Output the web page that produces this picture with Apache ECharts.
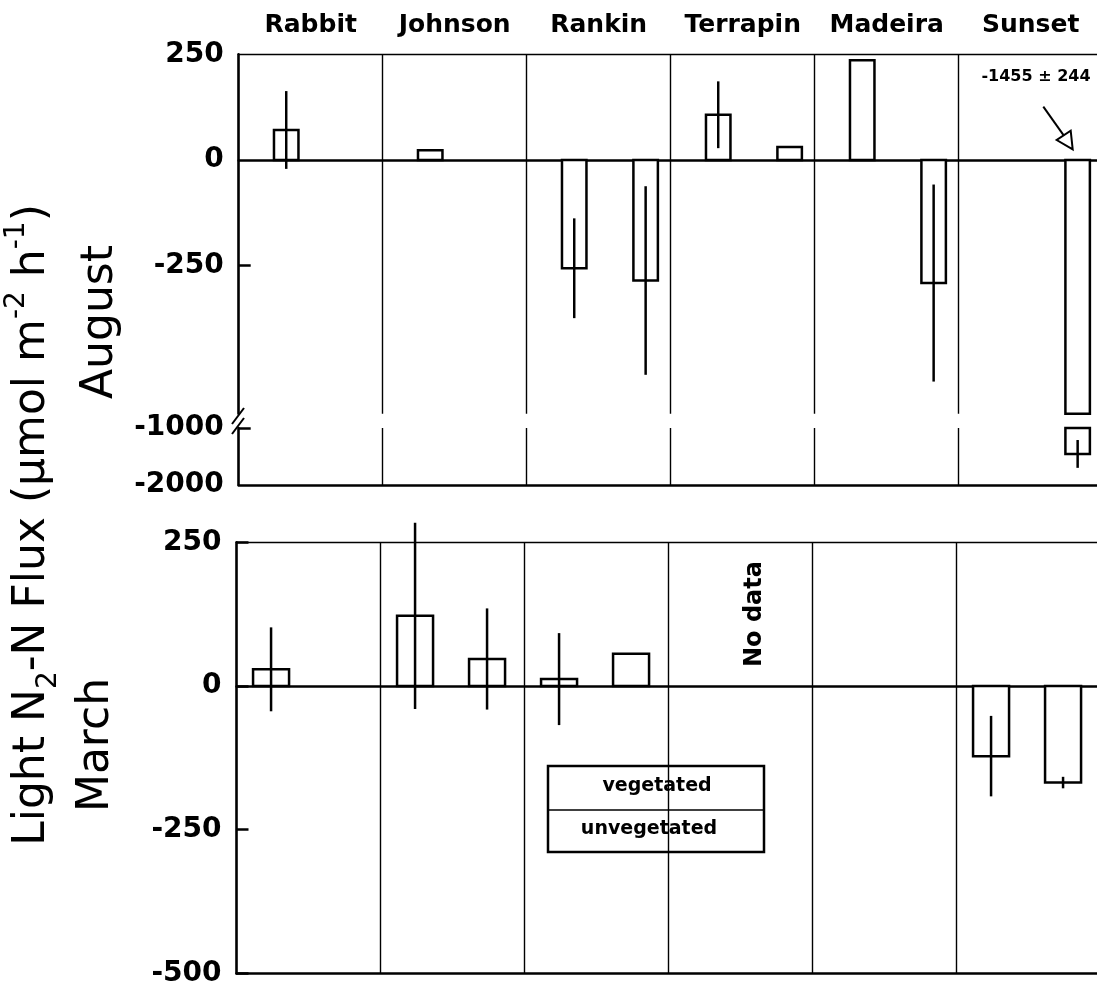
<!DOCTYPE html>
<html>
<head>
<meta charset="utf-8">
<title>Light N2-N flux</title>
<script src="https://cdn.jsdelivr.net/npm/echarts@6.0.0/dist/echarts.min.js"></script>
<style>
  html, body { margin: 0; padding: 0; background: #fff; }
  #chart { width: 1097px; height: 995px; }
</style>
</head>
<body>
<div id="chart"></div>
<script>
// sites along the x axis
const sites = ['Rabbit', 'Johnson', 'Rankin', 'Terrapin', 'Madeira', 'Sunset'];

// August, mean and +/- error (null = no bar / no error bar)
const augVeg = [71, 23, -256, 107, 236, null];
const augVegErr = [92, null, 118, 79, null, null];
const augUnveg = [null, null, -285, 31, -291, -1455];
const augUnvegErr = [null, null, 223, null, 233, 244];

// March
const marVeg = [29, 122, 12, null, null, -122];
const marVegErr = [73, 162, 80, null, null, 70];
const marUnveg = [null, 47, 56, null, null, -168];
const marUnvegErr = [null, 88, null, null, null, 10];

// tick labels
const augUpperLabels = [250, 0, -250];
const augLowerLabels = [-1000, -2000];

const FONT = 'DejaVu Sans';

function toData(vals, errs) {
  return vals
    .map((v, i) => [i, v, errs[i] == null ? 0 : errs[i]])
    .filter(d => d[1] != null);
}

// open bar + error line, clipped to its grid
function barRenderer(shift, widthFrac, clipErr) {
  return function (params, api) {
    const i = api.value(0);
    const v = api.value(1);
    const e = api.value(2);
    const band = api.size([1, 0])[0];
    const p0 = api.coord([i, 0]);
    const p1 = api.coord([i, v]);
    const w = band * widthFrac;
    const cx = p0[0] + band * shift;
    const cs = params.coordSys;
    const children = [];
    const rect = echarts.graphic.clipRectByRect(
      { x: cx - w / 2, y: Math.min(p0[1], p1[1]), width: w, height: Math.abs(p1[1] - p0[1]) },
      { x: cs.x, y: cs.y, width: cs.width, height: cs.height }
    );
    if (rect && rect.height > 0.5) {
      children.push({ type: 'rect', shape: rect, style: { fill: '#fff', stroke: '#000', lineWidth: 2.5 } });
    }
    if (e > 0) {
      let ya = api.coord([i, v + e])[1];
      let yb = api.coord([i, v - e])[1];
      if (clipErr) {
        ya = Math.max(ya, cs.y);
        yb = Math.min(yb, cs.y + cs.height);
      }
      if (yb > ya) {
        children.push({ type: 'line', shape: { x1: cx, y1: ya, x2: cx, y2: yb }, style: { stroke: '#000', lineWidth: 2.5 } });
      }
    }
    return { type: 'group', children: children };
  };
}

const tickLabel = {
  fontFamily: FONT, fontWeight: 'bold', fontSize: 28, color: '#000', margin: 15,
  formatter: v => String(v)
};
const sep = { show: true, interval: 0, lineStyle: { color: '#000', width: 1.4 } };
const thick = { color: '#000', width: 2.5 };
const thin = { color: '#000', width: 1.3 };

const chart = echarts.init(document.getElementById('chart'));

chart.setOption({
  animation: false,
  backgroundColor: '#fff',
  grid: [
    { left: 238.7, top: 54.3, width: 864, height: 359.4, outerBoundsMode: 'none' },
    { left: 238.7, top: 428, width: 864, height: 57, outerBoundsMode: 'none' },
    { left: 236.5, top: 542.3, width: 864, height: 431.1, outerBoundsMode: 'none' }
  ],
  xAxis: [
    // August upper: zero line + separators
    { gridIndex: 0, type: 'category', data: sites, position: 'bottom',
      axisLine: { onZero: true, lineStyle: thick }, axisTick: { show: false }, axisLabel: { show: false }, splitLine: sep },
    // August top border + site names
    { gridIndex: 0, type: 'category', data: sites, position: 'top',
      axisLine: { lineStyle: thin }, axisTick: { show: false }, splitLine: { show: false },
      axisLabel: { interval: 0, fontFamily: FONT, fontWeight: 'bold', fontSize: 25, color: '#000', margin: 29, verticalAlign: 'middle' } },
    // August lower segment
    { gridIndex: 1, type: 'category', data: sites, position: 'bottom',
      axisLine: { onZero: false, lineStyle: thick }, axisTick: { show: false }, axisLabel: { show: false }, splitLine: sep },
    // March zero line + separators
    { gridIndex: 2, type: 'category', data: sites, position: 'bottom',
      axisLine: { onZero: true, lineStyle: thick }, axisTick: { show: false }, axisLabel: { show: false }, splitLine: sep },
    // March top border
    { gridIndex: 2, type: 'category', data: sites, position: 'top',
      axisLine: { lineStyle: thin }, axisTick: { show: false }, axisLabel: { show: false }, splitLine: { show: false } },
    // March bottom border
    { gridIndex: 2, type: 'category', data: sites, position: 'bottom',
      axisLine: { onZero: false, lineStyle: thick }, axisTick: { show: false }, axisLabel: { show: false }, splitLine: { show: false } }
  ],
  yAxis: [
    { gridIndex: 0, type: 'value', min: -600, max: 250,
      axisLine: { show: true, lineStyle: thick },
      axisTick: { show: true, inside: true, length: 12, customValues: [-250], lineStyle: thick },
      axisLabel: Object.assign({ customValues: augUpperLabels }, tickLabel),
      splitLine: { show: false } },
    { gridIndex: 1, type: 'value', min: -2000, max: -1000,
      axisLine: { show: true, lineStyle: thick },
      axisTick: { show: true, inside: true, length: 12, customValues: [-1000], lineStyle: thick },
      axisLabel: Object.assign({ customValues: augLowerLabels }, tickLabel),
      splitLine: { show: false } },
    { gridIndex: 2, type: 'value', min: -500, max: 250, interval: 250,
      axisLine: { show: true, lineStyle: thick },
      axisTick: { show: true, inside: true, length: 12, lineStyle: thick },
      axisLabel: tickLabel,
      splitLine: { show: false } }
  ],
  series: [
    { name: 'Aug vegetated', type: 'custom', xAxisIndex: 0, yAxisIndex: 0,
      renderItem: barRenderer(-0.17, 0.17, true), data: toData(augVeg, augVegErr) },
    { name: 'Aug unvegetated', type: 'custom', xAxisIndex: 0, yAxisIndex: 0,
      renderItem: barRenderer(0.326, 0.17, true), data: toData(augUnveg, augUnvegErr) },
    { name: 'Aug vegetated (break)', type: 'custom', xAxisIndex: 2, yAxisIndex: 1,
      renderItem: barRenderer(-0.17, 0.17, true), data: toData(augVeg, augVegErr) },
    { name: 'Aug unvegetated (break)', type: 'custom', xAxisIndex: 2, yAxisIndex: 1,
      renderItem: barRenderer(0.326, 0.17, true), data: toData(augUnveg, augUnvegErr) },
    { name: 'Mar vegetated', type: 'custom', xAxisIndex: 3, yAxisIndex: 2,
      renderItem: barRenderer(-0.26, 0.25, false), data: toData(marVeg, marVegErr) },
    { name: 'Mar unvegetated', type: 'custom', xAxisIndex: 3, yAxisIndex: 2,
      renderItem: barRenderer(0.24, 0.25, false), data: toData(marUnveg, marUnvegErr) }
  ],
  graphic: [
    // y axis title
    { type: 'text', x: 33, y: 525, rotation: Math.PI / 2,
      style: {
        text: 'Light N{sub|2}-N Flux (µmol m{sup|-2} h{sup|-1})',
        font: '44px "DejaVu Sans"', fill: '#000', align: 'center', verticalAlign: 'middle', lineHeight: 60,
        rich: {
          sub: { fontFamily: FONT, fontSize: 28, lineHeight: 36, verticalAlign: 'bottom', fill: '#000' },
          sup: { fontFamily: FONT, fontSize: 28, lineHeight: 42, verticalAlign: 'top', fill: '#000' }
        }
      } },
    { type: 'text', x: 101, y: 322, rotation: Math.PI / 2,
      style: { text: 'August', font: '44px "DejaVu Sans"', fill: '#000', align: 'center', verticalAlign: 'middle' } },
    { type: 'text', x: 97, y: 745, rotation: Math.PI / 2,
      style: { text: 'March', font: '44px "DejaVu Sans"', fill: '#000', align: 'center', verticalAlign: 'middle' } },
    { type: 'text', x: 755, y: 614, rotation: Math.PI / 2,
      style: { text: 'No data', font: 'bold 24px "DejaVu Sans"', fill: '#000', align: 'center', verticalAlign: 'middle' } },
    // off-scale value note and arrow
    { type: 'text', x: 1036, y: 77,
      style: { text: '-1455 ± 244', font: 'bold 16px "DejaVu Sans"', fill: '#000', align: 'center', verticalAlign: 'middle' } },
    { type: 'line', shape: { x1: 1043.3, y1: 106.7, x2: 1063.7, y2: 135.3 }, style: { stroke: '#000', lineWidth: 2 } },
    { type: 'polygon', shape: { points: [[1072.7, 149.3], [1056.7, 140], [1070.7, 130.7]] },
      style: { fill: '#fff', stroke: '#000', lineWidth: 2 } },
    // axis break marks
    { type: 'line', shape: { x1: 232, y1: 424, x2: 244, y2: 408 }, style: { stroke: '#000', lineWidth: 2 } },
    { type: 'line', shape: { x1: 232, y1: 434, x2: 244, y2: 418 }, style: { stroke: '#000', lineWidth: 2 } },
    // legend box
    { type: 'rect', shape: { x: 548, y: 766, width: 216, height: 86 }, style: { fill: '#fff', stroke: '#000', lineWidth: 2.5 } },
    { type: 'line', shape: { x1: 548, y1: 810, x2: 764, y2: 810 }, style: { stroke: '#000', lineWidth: 1.5 } },
    { type: 'text', x: 657, y: 786,
      style: { text: 'vegetated', font: 'bold 19px "DejaVu Sans"', fill: '#000', align: 'center', verticalAlign: 'middle' } },
    { type: 'text', x: 649, y: 829,
      style: { text: 'unvegetated', font: 'bold 19px "DejaVu Sans"', fill: '#000', align: 'center', verticalAlign: 'middle' } }
  ]
});
</script>
</body>
</html>
